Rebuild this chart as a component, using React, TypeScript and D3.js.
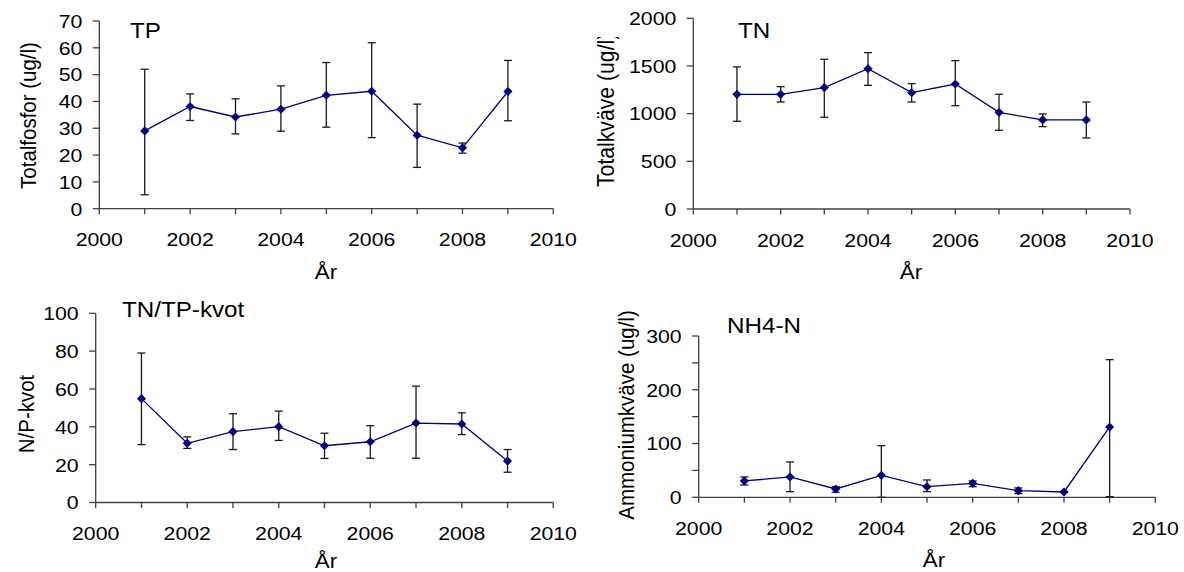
import React, { useEffect, useRef } from "react";
import * as d3 from "d3";

const years = [2001, 2002, 2003, 2004, 2005, 2006, 2007, 2008, 2009];
const xTickYears = [2000, 2001, 2002, 2003, 2004, 2005, 2006, 2007, 2008, 2009, 2010];
const xLabelYears = [2000, 2002, 2004, 2006, 2008, 2010];

// TP - totalfosfor
const tpValues = [29, 38.1, 34.2, 37.1, 42.3, 43.8, 27.4, 22.7, 43.7];
const tpUpper = [52, 42.8, 41, 45.8, 54.5, 61.9, 39, 24.5, 55.3];
const tpLower = [5.2, 32.9, 27.9, 28.9, 30.4, 26.5, 15.4, 20.7, 32.8];
const tpTicks = [0, 10, 20, 30, 40, 50, 60, 70];

// TN - totalkväve
const tnValues = [1203, 1203, 1273, 1472, 1220, 1311, 1014, 934, 934];
const tnUpper = [1490, 1283, 1570, 1640, 1315, 1556, 1203, 997, 1122];
const tnLower = [920, 1122, 962, 1297, 1122, 1084, 825, 864, 745];
const tnTicks = [0, 500, 1000, 1500, 2000];

// TN/TP-kvot
const npValues = [54.9, 31.3, 37.5, 40.1, 30, 32.1, 42, 41.5, 21.9];
const npUpper = [79, 34.7, 46.9, 48.3, 36.6, 40.6, 61.5, 47.4, 28];
const npLower = [30.6, 28.6, 28, 32.8, 23.3, 23.4, 23.4, 35.9, 16];
const npTicks = [0, 20, 40, 60, 80, 100];

// NH4-N - ammoniumkväve
const nhValues = [30.4, 37.8, 15.5, 40.9, 19.8, 26, 12.4, 9.9, 130.8];
const nhUpper = [37.8, 65.7, 19.8, 96, 32.2, 30.4, 17.4, 11, 256];
const nhLower = [22.9, 10.5, 9.3, 0, 10.5, 19.8, 6.8, 9, 1.2];
const nhTicks = [0, 50, 100, 150, 200, 250, 300];
const nhLabels = [0, 100, 200, 300];

const FONT = "'Liberation Sans', Arial, sans-serif";
const SX = 1.12; // text in the original is a bit wide

const panels = [
  {
    id: "tp", title: "TP", yLabel: "Totalfosfor (ug/l)",
    values: tpValues, upper: tpUpper, lower: tpLower, ticks: tpTicks, labels: tpTicks,
    left: 99.3, right: 553.3, top: 21, bottom: 208.7,
    titleX: 130, titleY: 37.7, yLabelX: 36, yLabelY: 115.5, yLabelAnchor: "middle", yLabelSize: 20.5,
    xLabelX: 326, xLabelY: 279, clipTop: null,
  },
  {
    id: "tn", title: "TN", yLabel: "Totalkväve (ug/l)",
    values: tnValues, upper: tnUpper, lower: tnLower, ticks: tnTicks, labels: tnTicks,
    left: 693.3, right: 1130, top: 18.3, bottom: 209,
    titleX: 738, titleY: 37.7, yLabelX: 614, yLabelY: 187, yLabelAnchor: "start", yLabelSize: 21.2,
    xLabelX: 911, xLabelY: 279, clipTop: 37,
  },
  {
    id: "np", title: "TN/TP-kvot", yLabel: "N/P-kvot",
    values: npValues, upper: npUpper, lower: npLower, ticks: npTicks, labels: npTicks,
    left: 95.7, right: 553.3, top: 313.3, bottom: 502.5,
    titleX: 122, titleY: 317, yLabelX: 34, yLabelY: 414, yLabelAnchor: "middle", yLabelSize: 20.5,
    xLabelX: 326, xLabelY: 568, clipTop: null,
  },
  {
    id: "nh", title: "NH4-N", yLabel: "Ammoniumkväve (ug/l)",
    values: nhValues, upper: nhUpper, lower: nhLower, ticks: nhTicks, labels: nhLabels,
    left: 698.7, right: 1155.3, top: 336, bottom: 497.3,
    titleX: 727, titleY: 333, yLabelX: 634, yLabelY: 415, yLabelAnchor: "middle", yLabelSize: 20.5,
    xLabelX: 934, xLabelY: 567, clipTop: null,
  },
];

const App = () => {
  const svgRef = useRef<SVGSVGElement>(null);

  useEffect(() => {
    const svg = d3.select(svgRef.current);
    svg.selectAll("*").remove();
    const defs = svg.append("defs");

    panels.forEach((p) => {
      const x = d3.scaleLinear().domain([2000, 2010]).range([p.left, p.right]);
      const yMax = p.ticks[p.ticks.length - 1];
      const y = d3.scaleLinear().domain([0, yMax]).range([p.bottom, p.top]);
      const g = svg.append("g").attr("font-family", FONT).attr("fill", "#000");
      const axisColor = "#404040";

      // y axis
      g.append("line")
        .attr("x1", p.left).attr("x2", p.left)
        .attr("y1", y(0)).attr("y2", y(yMax))
        .attr("stroke", axisColor).attr("stroke-width", 1.3);
      g.selectAll(".ytick")
        .data(p.ticks)
        .join("line")
        .attr("x1", p.left - 6.5).attr("x2", p.left)
        .attr("y1", (d) => y(d)).attr("y2", (d) => y(d))
        .attr("stroke", axisColor).attr("stroke-width", 1.3);
      g.selectAll(".ylab")
        .data(p.labels)
        .join("text")
        .attr("transform", (d) => `translate(${p.left - 17},${y(d)}) scale(${SX},1)`)
        .attr("dy", "0.36em")
        .attr("text-anchor", "end")
        .attr("font-size", 19)
        .text((d) => d);

      // x axis
      g.append("line")
        .attr("x1", x(2000)).attr("x2", x(2010))
        .attr("y1", y(0)).attr("y2", y(0))
        .attr("stroke", axisColor).attr("stroke-width", 1.3);
      g.selectAll(".xtick")
        .data(xTickYears)
        .join("line")
        .attr("x1", (d) => x(d)).attr("x2", (d) => x(d))
        .attr("y1", y(0)).attr("y2", y(0) + 5.5)
        .attr("stroke", axisColor).attr("stroke-width", 1.3);
      g.selectAll(".xlab")
        .data(xLabelYears)
        .join("text")
        .attr("transform", (d) => `translate(${x(d)},${y(0) + 37.5}) scale(${SX},1)`)
        .attr("text-anchor", "middle")
        .attr("font-size", 19)
        .text((d) => d);

      // labels
      g.append("text")
        .attr("transform", `translate(${p.titleX},${p.titleY}) scale(1.1,1)`)
        .attr("font-size", 22)
        .text(p.title);
      g.append("text")
        .attr("transform", `translate(${p.xLabelX},${p.xLabelY}) scale(${SX},1)`)
        .attr("text-anchor", "middle")
        .attr("font-size", 20)
        .text("År");

      let labelParent = g;
      if (p.clipTop !== null) {
        defs.append("clipPath").attr("id", `clip-${p.id}`)
          .attr("clipPathUnits", "userSpaceOnUse")
          .append("rect")
          .attr("x", 0).attr("y", p.clipTop).attr("width", 1184).attr("height", 572);
        labelParent = g.append("g").attr("clip-path", `url(#clip-${p.id})`);
      }
      labelParent.append("text")
        .attr("transform", `translate(${p.yLabelX},${p.yLabelY}) scale(${SX},1) rotate(-90)`)
        .attr("text-anchor", p.yLabelAnchor)
        .attr("font-size", p.yLabelSize)
        .text(p.yLabel);

      // error bars
      const eb = g.append("g").attr("stroke", "#1a1a1a").attr("stroke-width", 1.3);
      years.forEach((yr, i) => {
        const cx = x(yr);
        eb.append("line")
          .attr("x1", cx).attr("x2", cx)
          .attr("y1", y(p.lower[i])).attr("y2", y(p.upper[i]));
        [p.lower[i], p.upper[i]].forEach((v) => {
          eb.append("line")
            .attr("x1", cx - 4).attr("x2", cx + 4)
            .attr("y1", y(v)).attr("y2", y(v));
        });
      });

      // series line
      const line = d3.line<number>()
        .x((_, i) => x(years[i]))
        .y((d) => y(d));
      g.append("path")
        .attr("d", line(p.values))
        .attr("fill", "none")
        .attr("stroke", "#000080")
        .attr("stroke-width", 1.3);

      const sym = d3.symbol().type(d3.symbolSquare).size(42);
      g.selectAll(".mark")
        .data(p.values)
        .join("path")
        .attr("d", sym()!)
        .attr("transform", (d, i) => `translate(${x(years[i])},${y(d)}) rotate(45)`)
        .attr("fill", "#000080");
    });
  }, []);

  return (
    <div style={{ position: "absolute", left: 0, top: 0, width: 1184, height: 572, background: "#fff" }}>
      <svg ref={svgRef} width={1184} height={572}></svg>
    </div>
  );
};

export default App;
